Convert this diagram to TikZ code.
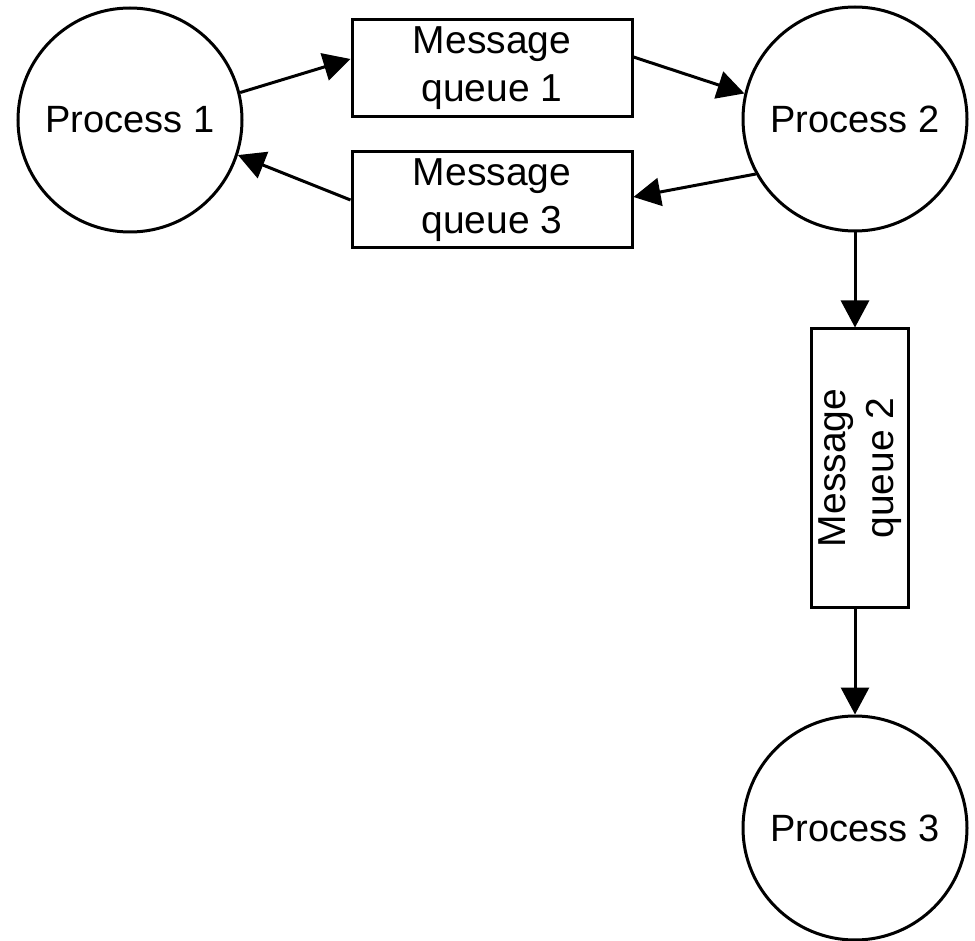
\documentclass[tikz,border=0pt]{standalone}
\usepackage{fontspec}
\setmainfont{Liberation Sans}
\usetikzlibrary{arrows.meta}
\begin{document}
\begin{tikzpicture}[x=1pt, y=-1pt,
  proc/.style={circle, draw, line width=3pt, minimum size=224pt, inner sep=0pt,
    font=\fontsize{38}{46}\selectfont},
  queue/.style={rectangle, draw, line width=3pt, align=center, inner sep=0pt,
    font=\fontsize{39}{48}\selectfont},
  flow/.style={line width=3pt, -{Triangle[length=27pt, width=28pt]}}]
  \useasboundingbox (0,0) rectangle (975,941);

  % processes
  \node[proc] (p1) at (130,120) {Process 1};
  \node[proc] (p2) at (855,119) {Process 2};
  \node[proc] (p3) at (855,828) {Process 3};

  % message queues
  \node[queue, minimum width=280pt, minimum height=97pt] (mq1) at (492,68) {Message\\queue 1};
  \node[queue, minimum width=280pt, minimum height=96pt] (mq3) at (492,200) {Message\\queue 3};
  \node[queue, rotate=90, minimum width=278pt, minimum height=97pt] (mq2) at (860,468) {Message\\queue 2};

  % connectors
  \coordinate (mq1in) at ([yshift=9pt]mq1.west);
  \coordinate (mq1out) at ([yshift=11pt]mq1.east);
  \coordinate (mq3in) at ([yshift=3pt]mq3.east);
  \draw[flow] (p1.14) -- (mq1in);
  \draw[flow] (mq1out) -- (p2.167);
  \draw[flow] (p2.209) -- (mq3in);
  \draw[flow] (mq3.west) -- (p1.-18);
  \draw[flow] (p2.south) -- (p2.south |- mq2.east);
  \draw[flow] (p3.north |- mq2.west) -- (p3.north);
\end{tikzpicture}
\end{document}
